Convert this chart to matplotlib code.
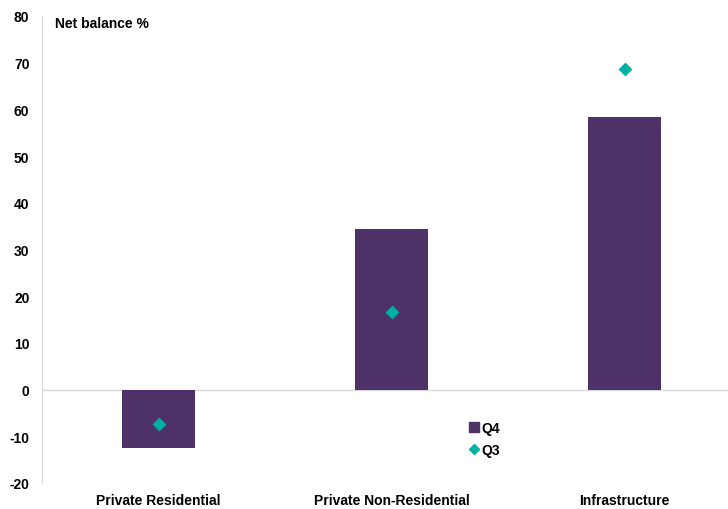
import matplotlib.pyplot as plt
from matplotlib.lines import Line2D

categories = ["Private Residential", "Private Non-Residential", "Infrastructure"]
q4 = [-12.5, 34.3, 58.4]
q3 = [-7.4, 16.6, 68.6]

purple = "#4E3166"
teal = "#00B0A0"
grey = "#D9D9D9"

plt.rcParams["font.family"] = ["Liberation Sans", "DejaVu Sans"]
plt.rcParams["font.weight"] = "bold"
plt.rcParams["axes.unicode_minus"] = False

fig = plt.figure(figsize=(7.28, 5.10), dpi=100)
ax = fig.add_axes([42 / 728, 26 / 510, 686 / 728, 467 / 510])

x = range(len(categories))
ax.bar(x, q4, width=0.313, color=purple, zorder=2)
ax.scatter(x, q3, marker="D", s=50, color=teal, zorder=3, linewidths=0)
ax.axhline(0, color=grey, lw=1, zorder=1)

ax.set_ylim(-20, 80)
ax.set_yticks(range(-20, 81, 10))
ax.set_xlim(-0.5, -0.5 + 686 / 233)
ax.set_xticks(list(x))
ax.set_xticklabels(categories, fontsize=10, fontweight="bold")
ax.tick_params(axis="y", length=0, pad=9, labelsize=10)
ax.tick_params(axis="x", length=0, pad=7)
for lbl in ax.get_yticklabels():
    lbl.set_fontweight("bold")

for s in ["top", "right", "bottom"]:
    ax.spines[s].set_visible(False)
ax.spines["left"].set_color(grey)

ax.text(13 / 686, 0.985, "Net balance %", transform=ax.transAxes,
        fontsize=10, fontweight="bold", va="center", ha="left")

handles = [
    Line2D([], [], marker="s", color=purple, linestyle="none", markersize=7),
    Line2D([], [], marker="D", color=teal, linestyle="none", markersize=5.5),
]
fig.legend(handles, ["Q4", "Q3"], loc="upper left",
           bbox_to_anchor=(470 / 728, 1 - 422 / 510), frameon=False,
           handlelength=0.6, handletextpad=0.2, labelspacing=0.6,
           prop={"size": 10, "weight": "bold"}, borderpad=0, borderaxespad=0)

fig.savefig("out.png", dpi=100)
